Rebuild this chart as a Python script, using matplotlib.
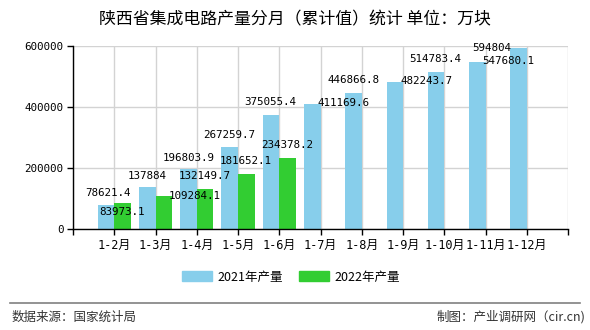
import matplotlib
matplotlib.use("Agg")
import matplotlib.pyplot as plt
from matplotlib.patches import Patch
import numpy as np

plt.rcParams['font.family'] = ['Noto Sans CJK SC', 'DejaVu Sans']

months = ["1-2月", "1-3月", "1-4月", "1-5月", "1-6月", "1-7月",
          "1-8月", "1-9月", "1-10月", "1-11月", "1-12月"]
prod_2021 = [78621.4, 137884, 196803.9, 267259.7, 375055.4, 411169.6,
             446866.8, 482243.7, 514783.4, 547680.1, 594804]
prod_2022 = [83973.1, 109284.1, 132149.7, 181652.1, 234378.2]
labels_2021 = ["78621.4", "137884", "196803.9", "267259.7", "375055.4", "411169.6",
               "446866.8", "482243.7", "514783.4", "547680.1", "594804"]
labels_2022 = ["83973.1", "109284.1", "132149.7", "181652.1", "234378.2"]

# where the value labels sit in the original (data coords, label centers)
lab21_x = [0.85, 1.79, 2.81, 3.79, 4.78, 6.55, 6.79, 8.58, 8.79, 10.56, 10.16]
lab21_y = [118000, 173800, 232800, 308200, 416400, 413100, 488500, 485200, 557400, 550800, 593400]
lab22_x = [1.19, 2.96, 3.20, 4.19, 5.20]
lab22_y = [55700, 108200, 173800, 223000, 275400]

blue = "#87CEEB"
green = "#32CD32"
mono = ['DejaVu Sans Mono', 'Noto Sans CJK SC']

fig = plt.figure(figsize=(5.9, 3.3), dpi=100)
ax = fig.add_axes([73 / 590, 1 - 229 / 330, 495 / 590, 183 / 330])

x = np.arange(1, len(months) + 1)
w = 0.4
ax.bar(x - w / 2, prod_2021, width=w, color=blue, zorder=2)
ax.bar(x[:len(prod_2022)] + w / 2, prod_2022, width=w, color=green, zorder=2)

for lx, ly, t in zip(lab21_x, lab21_y, labels_2021):
    ax.text(lx, ly, t, ha="center", va="center", fontsize=7.8, family=mono, zorder=3)
for lx, ly, t in zip(lab22_x, lab22_y, labels_2022):
    ax.text(lx, ly, t, ha="center", va="center", fontsize=7.8, family=mono, zorder=3)

ax.set_xlim(0, 12)
ax.set_ylim(0, 600000)
ax.set_xticks(range(0, 13))
ax.set_xticklabels([""] + months + [""], family=mono, fontsize=8.6)
ax.set_yticks([0, 200000, 400000, 600000])
ax.set_yticklabels(["0", "200000", "400000", "600000"], family=mono, fontsize=7.8)
ax.tick_params(axis="both", direction="out", length=4, width=1, color="black", pad=3)
ax.grid(True, color="#d3d3d3", linewidth=1, zorder=0)
ax.set_axisbelow(True)
for s in ["top", "right"]:
    ax.spines[s].set_visible(False)
for s in ["left", "bottom"]:
    ax.spines[s].set_color("black")
    ax.spines[s].set_linewidth(1)

fig.text(0.5, 1 - 19 / 330, "陕西省集成电路产量分月（累计值）统计 单位：万块",
         ha="center", va="center", fontsize=12.2)

handles = [Patch(color=blue, label="2021年产量"), Patch(color=green, label="2022年产量")]
fig.legend(handles=handles, loc="center", bbox_to_anchor=(291 / 590, 1 - 277 / 330),
           ncol=2, frameon=False, fontsize=9, handlelength=2.4, handleheight=0.8,
           handletextpad=0.4, columnspacing=1.3)

fig.add_artist(plt.Line2D([10 / 590, 580 / 590], [1 - 303 / 330, 1 - 303 / 330],
                          color="#808080", linewidth=1.2))
fig.text(12 / 590, 1 - 317 / 330, "数据来源：国家统计局", ha="left", va="center",
         fontsize=9, color="#333333")
fig.text(585 / 590, 1 - 317 / 330, "制图：产业调研网（cir.cn)", ha="right", va="center",
         fontsize=9, color="#333333")

fig.savefig("out.png", dpi=100)
